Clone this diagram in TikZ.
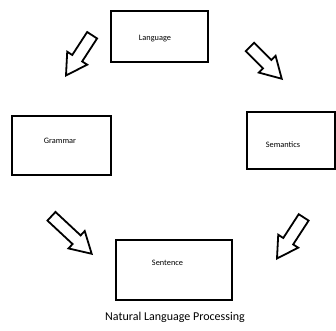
\documentclass[tikz,border=0pt]{standalone}
\usepackage{fontspec}
\setmainfont{Carlito}
\usetikzlibrary{shapes.arrows}

\begin{document}
\begin{tikzpicture}[x=1pt,y=-1pt,
  box/.style={draw=black,line width=1.8pt,inner sep=0pt},
  lbl/.style={font=\fontsize{8.3}{10}\selectfont,inner sep=0pt},
  harrow/.style={single arrow,draw=black,line width=1.8pt,fill=white,
                 inner xsep=0pt,inner ysep=5pt,single arrow head extend=6pt,
                 single arrow tip angle=60,anchor=tip},
]
\useasboundingbox (0,0) rectangle (336,330);
\node[box,minimum width=97pt,minimum height=51pt,
  label={[lbl,xshift=-4.5pt,yshift=-2.5pt]center:Language}] (lang) at (159.5,36.5) {};
\node[box,minimum width=99pt,minimum height=59pt,
  label={[lbl,xshift=-1.5pt,yshift=4.5pt]center:Grammar}] (gram) at (61.5,145.5) {};
\node[box,minimum width=88pt,minimum height=57pt,
  label={[lbl,xshift=-8pt,yshift=-4.5pt]center:Semantics}] (sem) at (291,140.5) {};
\node[box,minimum width=116pt,minimum height=60pt,
  label={[lbl,xshift=-6.5pt,yshift=7pt]center:Sentence}] (sent) at (174,270) {};
\node[harrow,minimum height=48pt,rotate=237] (langgram) at (65,77) {};
\node[harrow,minimum height=45pt,rotate=315] (langsem) at (283,80) {};
\node[harrow,minimum height=55pt,rotate=317] (gramsent) at (93,255) {};
\node[harrow,minimum height=49pt,rotate=237] (semsent) at (276,260) {};
\node[font=\fontsize{12}{14}\selectfont,inner sep=0pt] (title) at (175,317)
  {Natural Language Processing};
\end{tikzpicture}
\end{document}
